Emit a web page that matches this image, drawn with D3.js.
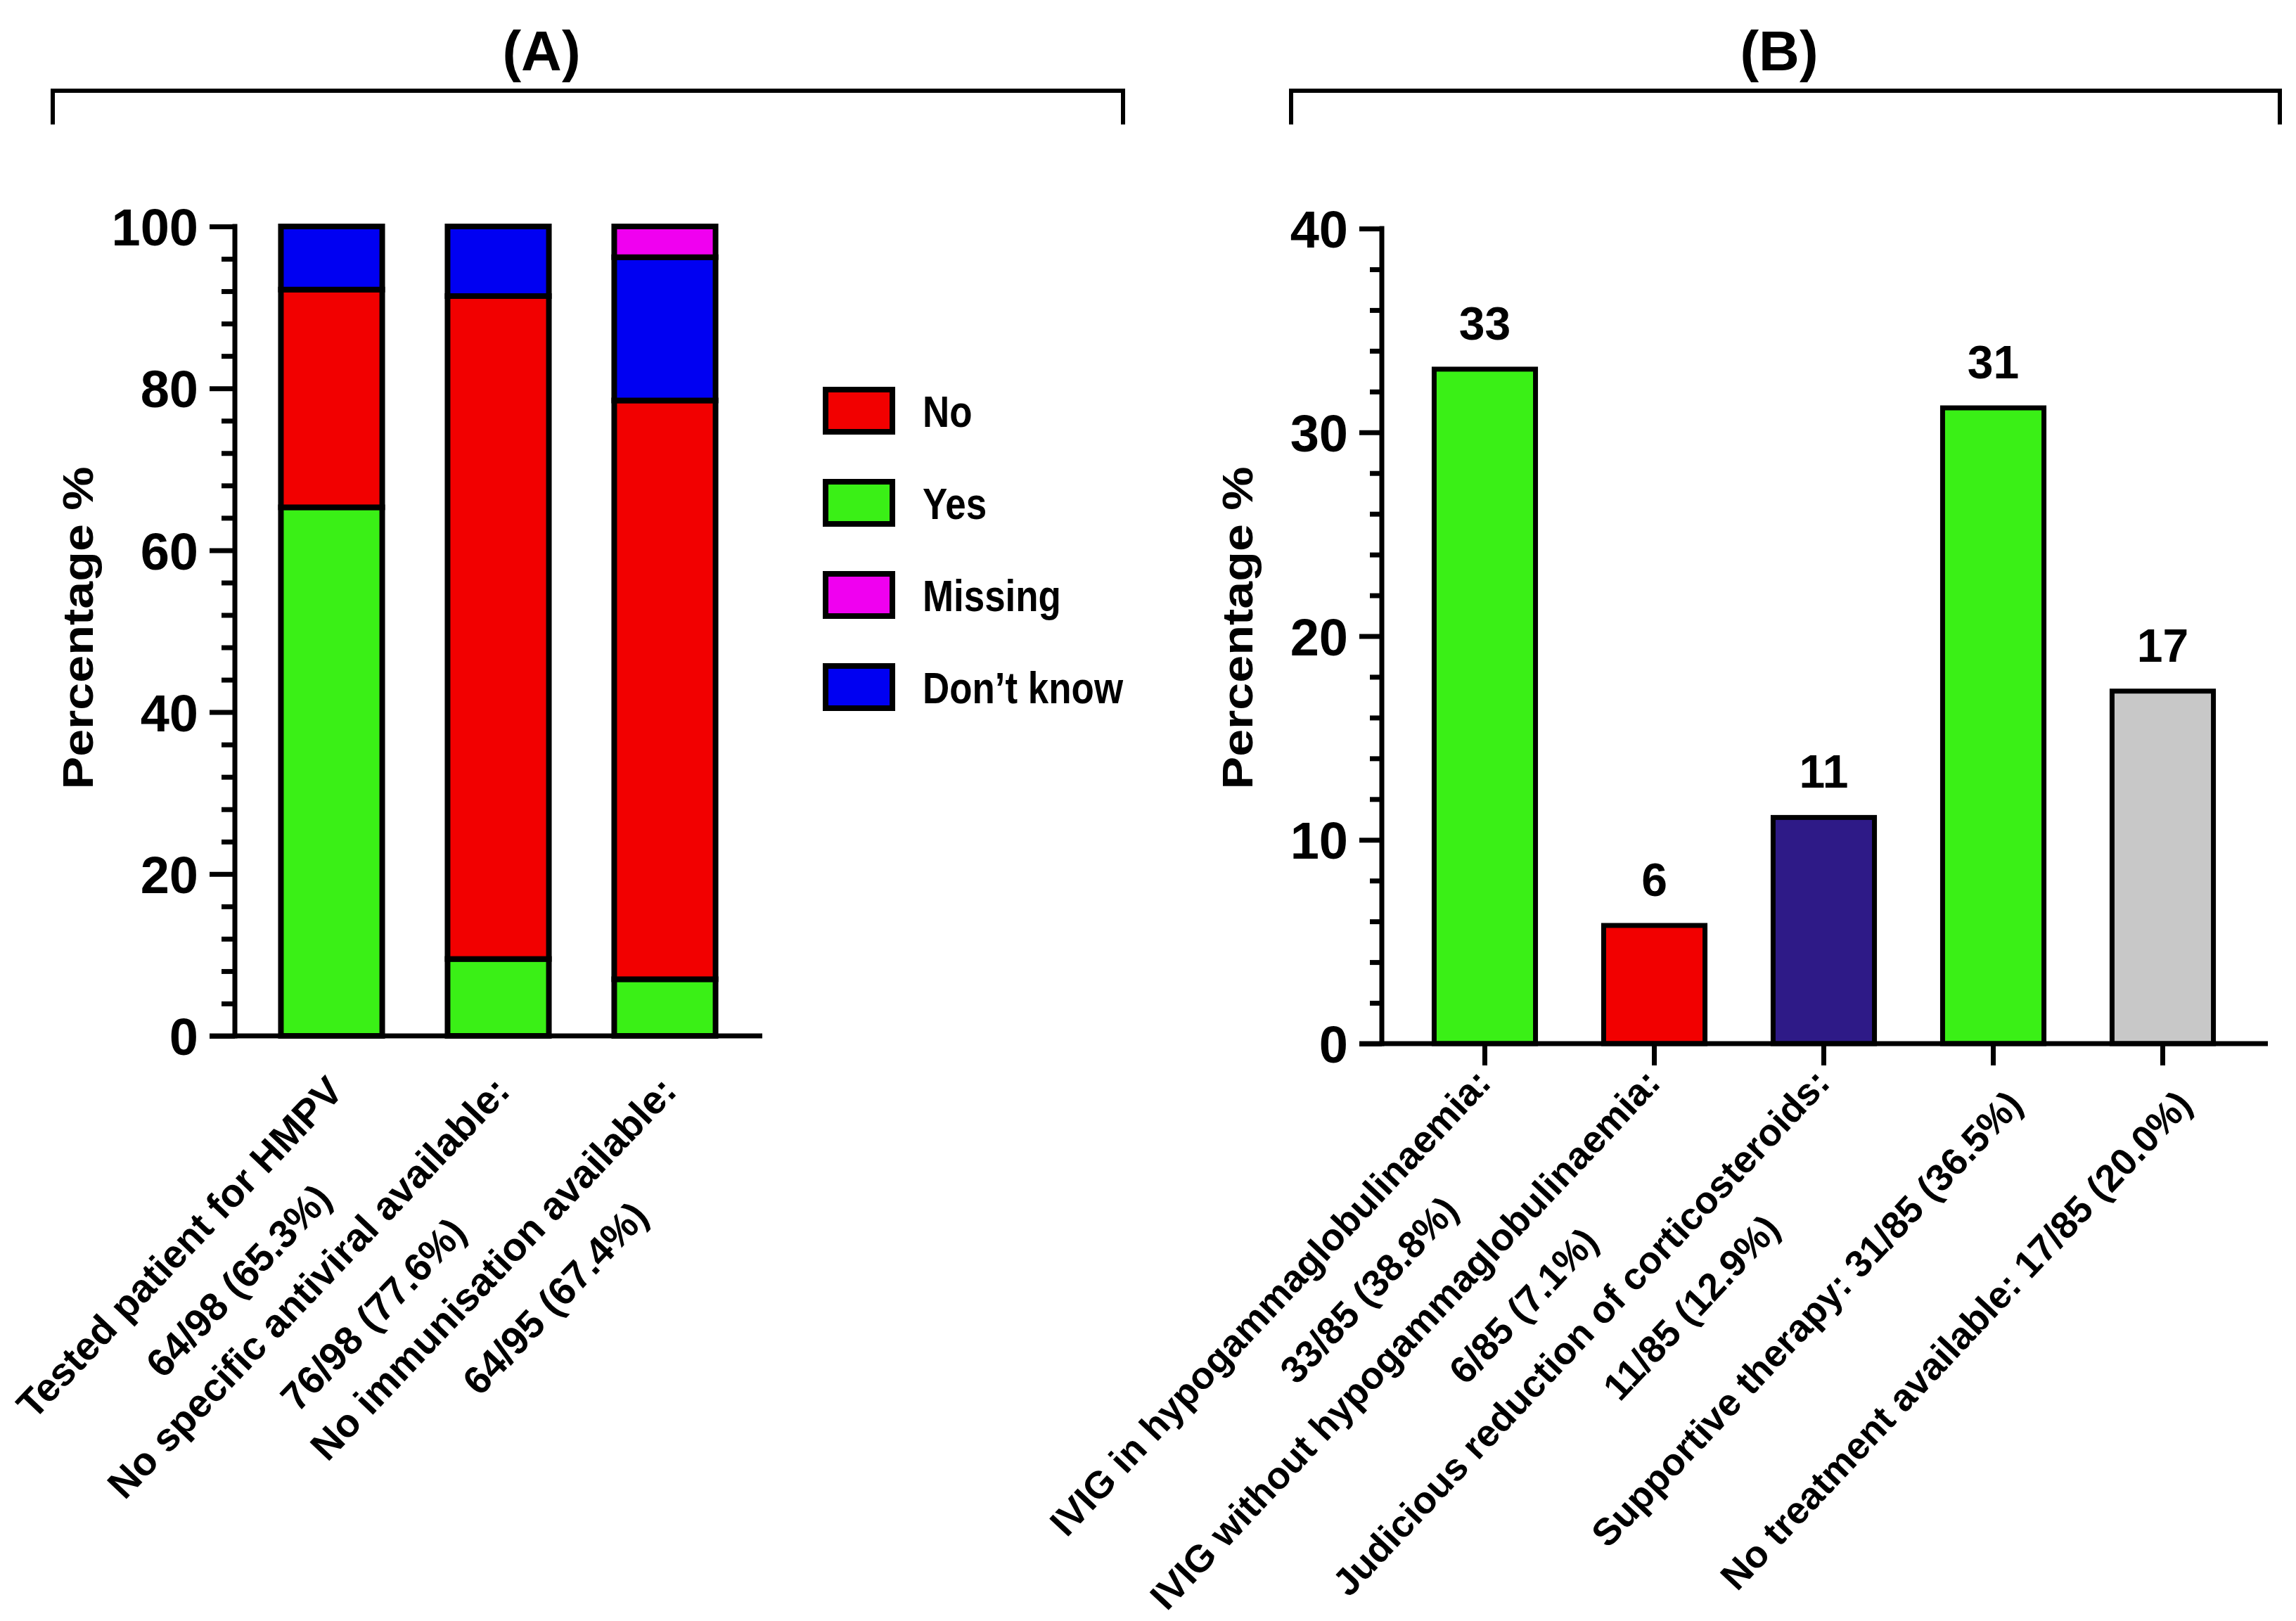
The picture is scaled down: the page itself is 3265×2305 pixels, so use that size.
<!DOCTYPE html>
<html>
<head>
<meta charset="utf-8">
<script src="https://cdn.jsdelivr.net/npm/d3@7"></script>
<style>
  body { margin: 0; background: #fff; }
  text { font-family: "Liberation Sans", Arial, Helvetica, sans-serif; font-weight: bold; fill: #000; }
</style>
</head>
<body>
<div id="chart"></div>
<script>
const width = 3265;
const height = 2305;

// ---- Panel A data (percentages)
const questions = ["Tested patient for HMPV", "No specific antiviral available:", "No immunisation available:"];
const questionCounts = ["64/98 (65.3%)", "76/98 (77.6%)", "64/95 (67.4%)"];
const stackKeys = ["Yes", "No", "Don’t know", "Missing"]; // bottom -> top
const yesPct = [65.3, 9.5, 7.0];
const noPct = [26.9, 81.9, 71.5];
const dontKnowPct = [7.8, 8.6, 17.7];
const missingPct = [0, 0, 3.8];
const legendKeys = ["No", "Yes", "Missing", "Don’t know"];
const answerColors = ["#f20000", "#3af016", "#f000f0", "#0000f2"]; // same order as legendKeys
const ticksA = [0, 20, 40, 60, 80, 100];

// ---- Panel B data
const treatments = [
  "IVIG in hypogammaglobulinaemia:",
  "IVIG without hypogammaglobulinaemia:",
  "Judicious reduction of corticosteroids:",
  "Supportive therapy: 31/85 (36.5%)",
  "No treatment available: 17/85 (20.0%)"
];
const treatmentCounts = ["33/85 (38.8%)", "6/85 (7.1%)", "11/85 (12.9%)", "", ""];
const treatmentValues = [33.1, 5.8, 11.1, 31.2, 17.3];
const treatmentColors = ["#3af016", "#f20000", "#2e1a87", "#3af016", "#c8c8c8"];
const ticksB = [0, 10, 20, 30, 40];

const svg = d3.select("#chart").append("svg")
  .attr("width", width)
  .attr("height", height);

svg.append("rect").attr("width", width).attr("height", height).attr("fill", "#fff");

const colorA = d3.scaleOrdinal().domain(legendKeys).range(answerColors);

// bracket + panel letter on top of each panel
function panelHeader(x0, x1, cx, letter) {
  svg.append("path")
    .attr("d", `M${x0},177V129H${x1}V177`)
    .attr("fill", "none").attr("stroke", "#000").attr("stroke-width", 6);
  svg.append("text")
    .attr("x", cx).attr("y", 100)
    .attr("text-anchor", "middle").attr("font-size", 80)
    .text(letter);
}

// y axis with major labelled ticks and short minor ticks (Prism style)
function yAxis(scale, x, majors, minorStep, majorLen, minorLen) {
  const top = d3.max(majors);
  const g = svg.append("g").attr("transform", `translate(${x},0)`);
  g.call(d3.axisLeft(scale).tickValues(majors).tickSize(majorLen).tickPadding(16).tickFormat(d3.format("d")));
  g.select(".domain").remove();
  g.selectAll(".tick line").attr("stroke", "#000").attr("stroke-width", 7);
  g.selectAll(".tick text")
    .attr("font-size", 74)
    .attr("font-family", "Liberation Sans, Arial, sans-serif")
    .attr("dy", "0.36em");

  const minors = d3.range(0, top + 0.001, minorStep).filter(v => !majors.includes(v));
  const gm = svg.append("g").attr("transform", `translate(${x},0)`);
  gm.call(d3.axisLeft(scale).tickValues(minors).tickSize(minorLen).tickFormat(""));
  gm.select(".domain").remove();
  gm.selectAll(".tick line").attr("stroke", "#000").attr("stroke-width", 7);

  svg.append("line")
    .attr("x1", x).attr("x2", x)
    .attr("y1", scale(top)).attr("y2", scale(0))
    .attr("stroke", "#000").attr("stroke-width", 7).attr("stroke-linecap", "square");
}

function yTitle(x, y) {
  svg.append("text")
    .attr("transform", `translate(${x},${y}) scale(0.88,1) rotate(-90)`)
    .attr("text-anchor", "middle").attr("font-size", 70)
    .text("Percentage %");
}

// rotated category label (Prism style);
// the longest line ends at the anchor, shorter lines are pulled back by k of the difference
function rotatedLabel(x, y, lines, o) {
  const g = svg.append("g").attr("transform", `translate(${x},${y}) rotate(${-o.angle})`);
  const texts = lines.map((l, i) => g.append("text")
    .attr("text-anchor", "end")
    .attr("font-size", o.size)
    .attr("y", (i - (lines.length - 1) / 2) * o.spacing)
    .text(l));
  const lens = texts.map(s => s.node().getComputedTextLength());
  const maxL = d3.max(lens);
  texts.forEach((s, i) => s.attr("x", -o.k * (maxL - lens[i])));
}

// ================= Panel A =================
panelHeader(75, 1597, 770, "(A)");

const yA = d3.scaleLinear().domain([0, 100]).range([1473, 322]);
const xA = d3.scaleBand().domain(questions).range([353, 1064]).paddingInner(0.392).paddingOuter(0.196);

const rowsA = questions.map((q, i) => ({
  q: q,
  "Yes": yesPct[i],
  "No": noPct[i],
  "Don’t know": dontKnowPct[i],
  "Missing": missingPct[i]
}));
const seriesA = d3.stack().keys(stackKeys)(rowsA);

svg.append("g").selectAll("g")
  .data(seriesA)
  .join("g")
  .attr("fill", s => colorA(s.key))
  .selectAll("rect")
  .data(s => s.filter(d => d[1] - d[0] > 0))
  .join("rect")
  .attr("x", d => xA(d.data.q))
  .attr("width", xA.bandwidth())
  .attr("y", d => yA(d[1]))
  .attr("height", d => yA(d[0]) - yA(d[1]))
  .attr("stroke", "#000")
  .attr("stroke-width", 8);

yAxis(yA, 334, ticksA, 4, 36, 19);
svg.append("line")
  .attr("x1", 298).attr("x2", 1084)
  .attr("y1", yA(0)).attr("y2", yA(0))
  .attr("stroke", "#000").attr("stroke-width", 7);
yTitle(132, 893);

const labelA = { size: 56, angle: 46.5, spacing: 93, k: 0.42 };
questions.forEach((q, i) => {
  rotatedLabel(xA(q) + xA.bandwidth() / 2 + 53, yA(0) + 113, [q, questionCounts[i]], labelA);
});

// legend
const legend = svg.append("g").attr("transform", "translate(1174,554)");
legendKeys.forEach((k, i) => {
  const row = legend.append("g").attr("transform", `translate(0,${i * 131})`);
  row.append("rect")
    .attr("width", 95).attr("height", 60)
    .attr("fill", colorA(k)).attr("stroke", "#000").attr("stroke-width", 8);
  row.append("text")
    .attr("transform", "translate(138,53) scale(0.84,1)")
    .attr("font-size", 63)
    .text(k);
});

// ================= Panel B =================
panelHeader(1836, 3242, 2530, "(B)");

const yB = d3.scaleLinear().domain([0, 40]).range([1484, 325]);
const xB = d3.scaleBand().domain(treatments).range([1991, 3196]).paddingInner(0.402).paddingOuter(0.201);

svg.append("g").selectAll("rect")
  .data(treatments)
  .join("rect")
  .attr("x", d => xB(d))
  .attr("width", xB.bandwidth())
  .attr("y", (d, i) => yB(treatmentValues[i]))
  .attr("height", (d, i) => yB(0) - yB(treatmentValues[i]))
  .attr("fill", (d, i) => treatmentColors[i])
  .attr("stroke", "#000")
  .attr("stroke-width", 7);

svg.append("g").selectAll("text")
  .data(treatments)
  .join("text")
  .attr("x", d => xB(d) + xB.bandwidth() / 2)
  .attr("y", (d, i) => yB(treatmentValues[i]) - 42)
  .attr("text-anchor", "middle")
  .attr("font-size", 66)
  .text((d, i) => d3.format(".0f")(treatmentValues[i]));

yAxis(yB, 1965, ticksB, 2, 32, 17);

const xAxisB = svg.append("g").attr("transform", `translate(0,${yB(0)})`)
  .call(d3.axisBottom(xB).tickSize(31).tickFormat(""));
xAxisB.select(".domain").remove();
xAxisB.selectAll(".tick line").attr("stroke", "#000").attr("stroke-width", 7);
svg.append("line")
  .attr("x1", 1933).attr("x2", 3225)
  .attr("y1", yB(0)).attr("y2", yB(0))
  .attr("stroke", "#000").attr("stroke-width", 7);
yTitle(1781, 893);

const labelB = { size: 54, angle: 46.8, spacing: 90, k: 0.3 };
treatments.forEach((t, i) => {
  const lines = treatmentCounts[i] ? [t, treatmentCounts[i]] : [t];
  rotatedLabel(xB(t) + xB.bandwidth() / 2 + 44, yB(0) + 89, lines, labelB);
});
</script>
</body>
</html>
